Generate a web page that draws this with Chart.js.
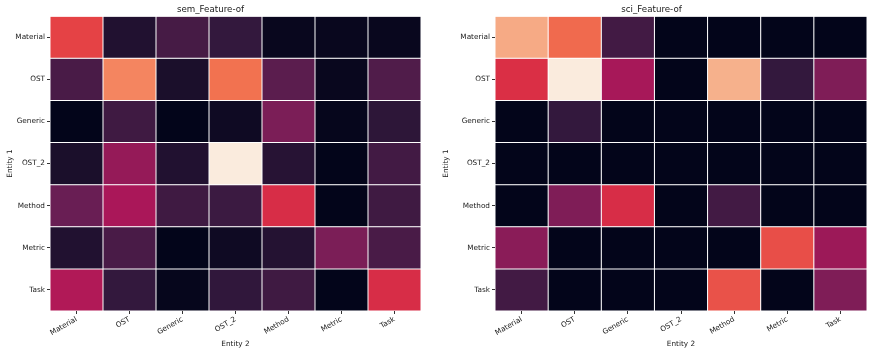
<!DOCTYPE html>
<html>
<head>
<meta charset="utf-8">
<script src="https://cdn.jsdelivr.net/npm/chart.js@4.4.0/dist/chart.umd.min.js"></script>
<style>
  html, body { margin: 0; padding: 0; background: #fff; }
  #wrap { position: relative; width: 872px; height: 353px; }
  .panel { position: absolute; top: 0; width: 436px; height: 353px; }
</style>
</head>
<body>
<div id="wrap">
  <div class="panel" style="left:0"><canvas id="sem" width="436" height="353"></canvas></div>
  <div class="panel" style="left:436px"><canvas id="sci" width="436" height="353"></canvas></div>
</div>
<script>
const entities = ['Material', 'OST', 'Generic', 'OST_2', 'Method', 'Metric', 'Task'];

// rows = Entity 1, columns = Entity 2 (normalised 0..1)
const semFeatureOf = [
  [0.62, 0.05, 0.13, 0.08, 0.01, 0.01, 0.01],
  [0.14, 0.79, 0.04, 0.74, 0.19, 0.01, 0.16],
  [0.00, 0.11, 0.00, 0.02, 0.28, 0.005, 0.07],
  [0.04, 0.35, 0.05, 1.00, 0.06, 0.00, 0.12],
  [0.23, 0.41, 0.11, 0.10, 0.55, 0.00, 0.11],
  [0.05, 0.14, 0.00, 0.02, 0.055, 0.28, 0.14],
  [0.43, 0.08, 0.005, 0.075, 0.11, 0.00, 0.55],
];

const sciFeatureOf = [
  [0.89, 0.72, 0.12, 0.00, 0.00, 0.00, 0.00],
  [0.56, 1.00, 0.40, 0.00, 0.91, 0.08, 0.29],
  [0.00, 0.08, 0.00, 0.00, 0.00, 0.00, 0.00],
  [0.00, 0.00, 0.00, 0.00, 0.00, 0.00, 0.00],
  [0.00, 0.29, 0.55, 0.00, 0.12, 0.00, 0.00],
  [0.32, 0.00, 0.00, 0.00, 0.00, 0.65, 0.37],
  [0.12, 0.00, 0.00, 0.00, 0.66, 0.00, 0.29],
];

// seaborn "rocket" colormap, sampled
const rocketStops = [
  [0.000, [3, 5, 26]],
  [0.083, [53, 25, 62]],
  [0.250, [112, 31, 87]],
  [0.417, [173, 23, 89]],
  [0.583, [225, 51, 66]],
  [0.750, [243, 118, 81]],
  [0.917, [246, 180, 143]],
  [1.000, [250, 235, 221]],
];

function rocket(v) {
  v = Math.max(0, Math.min(1, v));
  for (let i = 1; i < rocketStops.length; i++) {
    const [p1, c1] = rocketStops[i];
    const [p0, c0] = rocketStops[i - 1];
    if (v <= p1) {
      const t = (v - p0) / (p1 - p0);
      const c = c0.map((ch, k) => Math.round(ch + (c1[k] - ch) * t));
      return `rgb(${c[0]}, ${c[1]}, ${c[2]})`;
    }
  }
  return 'rgb(250, 235, 221)';
}

const textColor = '#1a1a1a';
const font = { family: '"DejaVu Sans", sans-serif', size: 7.3 };

function makeHeatmap(canvasId, title, values, yAxisWidth, rightPad) {
  const datasets = values.map((row, i) => ({
    label: entities[i],
    data: row.map(() => 1),
    backgroundColor: row.map(rocket),
    borderColor: 'rgba(255, 255, 255, 0.72)',
    borderWidth: 0.5,
    borderSkipped: false,
    inflateAmount: 0,
    barPercentage: 1,
    categoryPercentage: 1,
  }));

  return new Chart(document.getElementById(canvasId), {
    type: 'bar',
    data: { labels: entities, datasets },
    options: {
      responsive: false,
      animation: false,
      layout: { padding: { left: 0, right: rightPad, top: 0, bottom: 0 } },
      plugins: {
        legend: { display: false },
        tooltip: { enabled: false },
        title: {
          display: true,
          text: title,
          color: textColor,
          font: { family: font.family, size: 8.7, weight: 'normal' },
          padding: { top: 4.5, bottom: 1.2 },
        },
      },
      scales: {
        x: {
          stacked: true,
          grid: { offset: false, drawOnChartArea: false, tickLength: 3, color: '#333' },
          border: { display: false },
          ticks: { color: textColor, font, maxRotation: 30, minRotation: 30, padding: 1 },
          title: { display: true, text: 'Entity 2', color: textColor, font, padding: { top: 0, bottom: 5 } },
          afterFit(scale) { scale.height = 42; },
        },
        y: {
          type: 'linear',
          stacked: true,
          min: 0,
          max: 7,
          reverse: true,
          afterBuildTicks(scale) {
            scale.ticks = entities.map((_, i) => ({ value: i + 0.5 }));
          },
          grid: { drawOnChartArea: false, tickLength: 3, color: '#333' },
          border: { display: false },
          ticks: {
            color: textColor,
            font,
            padding: 2,
            callback: (value, index) => entities[index],
          },
          title: { display: true, text: 'Entity 1', color: textColor, font, padding: { top: 5.5, bottom: 0 } },
          afterFit(scale) { scale.width = yAxisWidth; },
        },
      },
    },
  });
}

makeHeatmap('sem', 'sem_Feature-of', semFeatureOf, 50, 15);
makeHeatmap('sci', 'sci_Feature-of', sciFeatureOf, 59, 5);
</script>
</body>
</html>
